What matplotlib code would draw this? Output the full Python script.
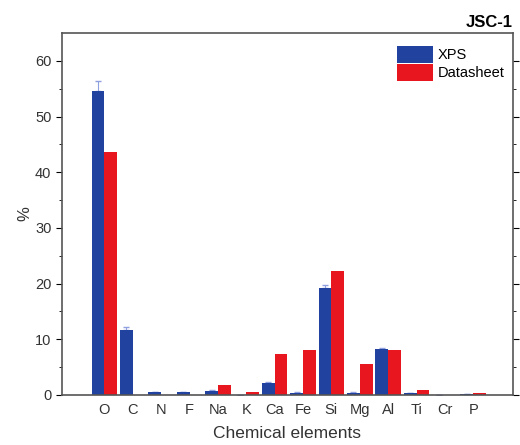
#!/usr/bin/env python3
"""Elemental composition of JSC-1: XPS vs datasheet."""

import numpy as np
import matplotlib
matplotlib.use("Agg")
import matplotlib.pyplot as plt

elements = ['O', 'C', 'N', 'F', 'Na', 'K', 'Ca', 'Fe', 'Si', 'Mg', 'Al', 'Ti', 'Cr', 'P']
xps = [54.6, 11.7, 0.5, 0.5, 0.8, 0.0, 2.2, 0.4, 19.3, 0.4, 8.2, 0.3, 0.0, 0.1]
xps_err = [1.8, 0.5, 0.1, 0.1, 0.1, 0.0, 0.2, 0.1, 0.5, 0.1, 0.2, 0.1, 0.0, 0.0]
datasheet = [43.6, 0.0, 0.0, 0.0, 1.8, 0.6, 7.4, 8.1, 22.2, 5.5, 8.0, 0.9, 0.05, 0.3]

plt.rcParams['font.family'] = ['Liberation Sans', 'DejaVu Sans']

fig = plt.figure(figsize=(5.2, 4.45), dpi=100)
ax = fig.add_axes([0.119, 0.1124, 0.8675, 0.8134])

x = np.arange(len(elements))
w = 0.45
blue = '#2242a0'
red = '#e8161e'

ax.bar(x - w / 2, xps, width=w, color=blue, label='XPS', zorder=2)
ax.bar(x + w / 2, datasheet, width=w, color=red, label='Datasheet', zorder=2)
ax.errorbar(x - w / 2, xps, yerr=[np.zeros(len(xps)), xps_err], fmt='none',
            ecolor='#8fa0e0', elinewidth=0.8, capsize=2.5, zorder=1)

ax.set_xlim(-1.5, 14.4)
ax.set_ylim(0, 65)
ax.set_xticks(x)
ax.set_xticklabels(elements)
ax.set_yticks(np.arange(0, 61, 10))
ax.set_yticks(np.arange(5, 61, 10), minor=True)
ax.tick_params(axis='x', length=0, pad=6, labelsize=10.5, labelcolor='#333333')
ax.tick_params(axis='y', which='both', direction='out', right=True,
               labelsize=10.5, labelcolor='#333333')
ax.tick_params(axis='y', which='major', length=4)
ax.tick_params(axis='y', which='minor', length=2)

for s in ax.spines.values():
    s.set_color('#555555')
    s.set_linewidth(1.2)

ax.set_xlabel('Chemical elements', fontsize=12.5, color='#333333', labelpad=6)
ax.set_ylabel('%', fontsize=12, color='#333333', labelpad=2)
ax.set_title('JSC-1', loc='right', fontsize=12, fontweight='bold', pad=4)

ax.legend(loc='upper right', frameon=False, fontsize=10.5, handlelength=2.5,
          handleheight=1.4, labelspacing=0.05, handletextpad=0.3,
          borderaxespad=0.5, bbox_to_anchor=(1.01, 1.0))

fig.savefig('out.png', dpi=100)
